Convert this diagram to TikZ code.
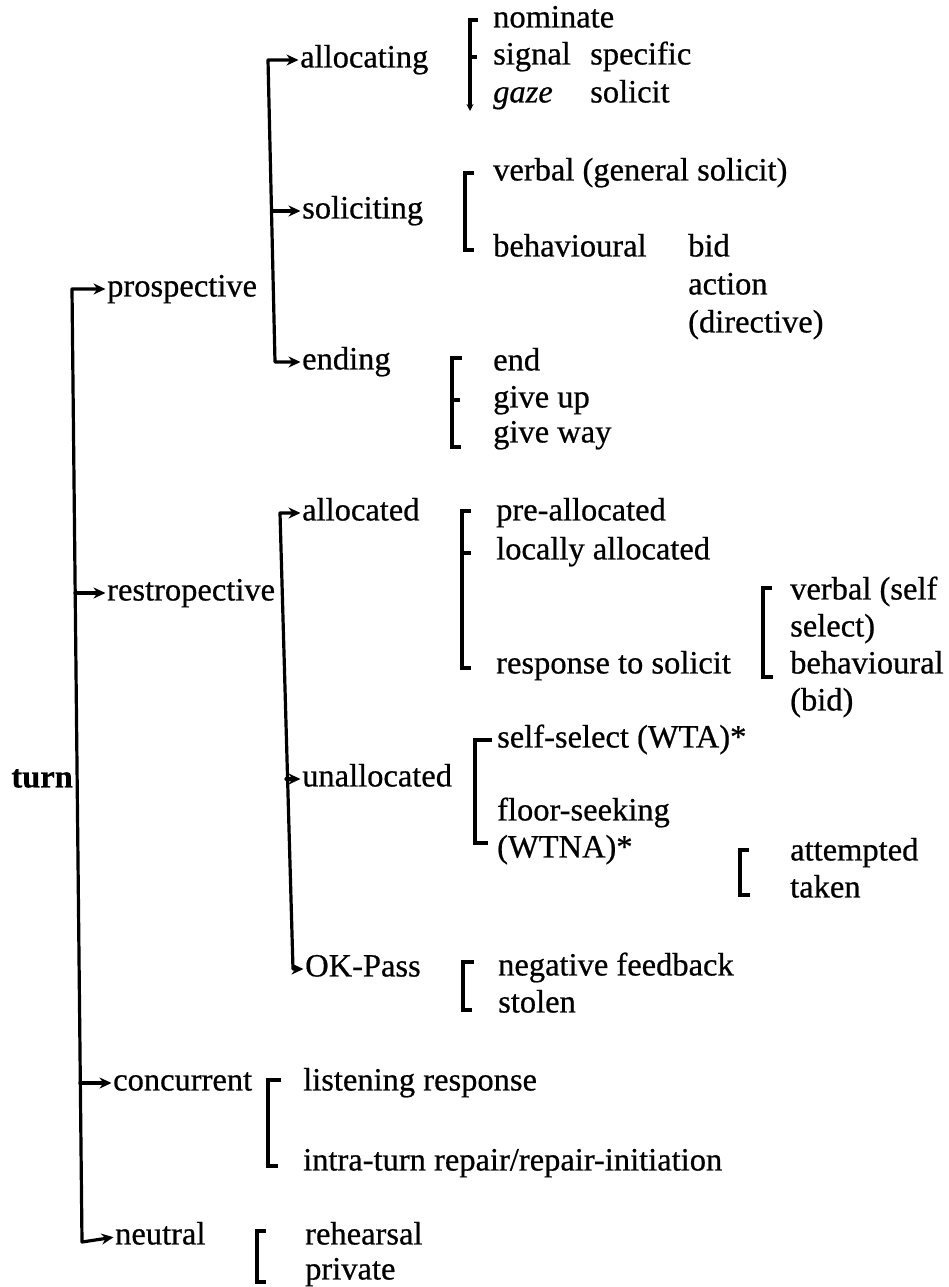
\documentclass[tikz,border=0pt]{standalone}
\usepackage{fontspec}
\setmainfont{Liberation Serif}[FakeBold=0.6]
\usetikzlibrary{arrows.meta}
\begin{document}
\fontsize{32.5}{37}\selectfont
\begin{tikzpicture}[x=1pt,y=-1pt,
  lab/.style={anchor=mid west, inner sep=0pt, font=\fontsize{32.5}{37}\selectfont},
  ln/.style={line width=3.2pt, line cap=round, line join=round},
  arr/.style={ln, -{Stealth[length=12pt,width=11pt]}, shorten >=1.5pt},
  arrtwo/.style={ln, {Stealth[length=12pt,width=11pt]}-{Stealth[length=12pt,width=11pt]}, shorten >=1.5pt, shorten <=1.5pt},
  brk/.style={line width=3.2pt, line cap=butt, line join=miter}]
\fill[white] (0,0) rectangle (949,1287);
\useasboundingbox (0,0) rectangle (949,1287);

% level 0 and 1
\node[lab, anchor=mid east, font={\fontsize{32.5}{37}\selectfont\bfseries}] (turn) at (73,780) {turn};
\node[lab] (pro) at (107,289) {prospective};
\node[lab] (res) at (107,593) {restropective};
\node[lab] (con) at (113,1083) {concurrent};
\node[lab] (neu) at (115,1237) {neutral};

\draw[arrtwo] (pro.mid west) -- (72,289) -- (82,1242) -- (neu.mid west);
\draw[arr] (75,593) -- (res.mid west);
\draw[arr] (80,1083) -- (con.mid west);

% prospective branch
\node[lab] (alc) at (300,60) {allocating};
\node[lab] (sol) at (302,211) {soliciting};
\node[lab] (endg) at (302,362) {ending};
\draw[arrtwo] (alc.mid west) -- (268,60) -- (275,362) -- (endg.mid west);
\draw[arr] (272,211) -- (sol.mid west);

% allocating group
\node[lab] (nom) at (493,20) {nominate};
\node[lab] (sig) at (493,57) {signal};
\node[lab] (spe) at (590,57) {specific};
\node[lab] (gaz) at (493,95) {\itshape gaze};
\node[lab] (sli) at (590,95) {solicit};
\draw[brk] (478,20) -- (470,20) -- (470,104);
\draw[brk] (470,57) -- (477,57);
\draw[ln, -{Stealth[length=7pt,width=7pt]}] (470,100) -- (470,111);

% soliciting group
\node[lab] (vgs) at (493,173) {verbal (general solicit)};
\node[lab] (beh) at (493,249) {behavioural};
\node[lab] (bid) at (688,249) {bid};
\node[lab] (act) at (688,287) {action};
\node[lab] (dir) at (688,325) {(directive)};
\draw[brk] (474,173) -- (465,173) -- (465,250) -- (474,250);

% ending group
\node[lab] (enx) at (493,363) {end};
\node[lab] (gup) at (493,400) {give up};
\node[lab] (gwy) at (493,435) {give way};
\draw[brk] (462,358) -- (452,358) -- (452,447) -- (461,447);
\draw[brk] (452,400) -- (460,400);

% restropective branch
\node[lab] (ald) at (302,513) {allocated};
\node[lab] (una) at (302,779) {unallocated};
\node[lab] (okp) at (305,969) {OK-Pass};
\draw[arrtwo] (ald.mid west) -- (280,513) -- (293,969) -- (okp.mid west);
\draw[arr] (286,779) -- (una.mid west);

% allocated group
\node[lab] (pre) at (496,513) {pre-allocated};
\node[lab] (loc) at (496,552) {locally allocated};
\node[lab] (rts) at (496,666) {response to solicit};
\draw[brk] (471,511) -- (462,511) -- (462,668) -- (471,668);
\draw[brk] (462,553) -- (471,553);

% response group
\node[lab] (vss) at (790,592) {verbal (self};
\node[lab] (sel) at (790,629) {select)};
\node[lab] (bhv) at (790,666) {behavioural};
\node[lab] (bdd) at (790,703) {(bid)};
\draw[brk] (772,588) -- (763,588) -- (763,677) -- (773,677);

% unallocated group
\node[lab] (ssw) at (497,740) {self-select (WTA)*};
\node[lab] (fls) at (497,813) {floor-seeking};
\node[lab] (wtn) at (497,850) {(WTNA)*};
\draw[brk] (492,740) -- (475,740) -- (475,843) -- (488,843);

% attempted group
\node[lab] (att) at (790,853) {attempted};
\node[lab] (tak) at (790,890) {taken};
\draw[brk] (749,850) -- (740,850) -- (740,895) -- (750,895);

% OK-Pass group
\node[lab] (neg) at (498,968) {negative feedback};
\node[lab] (sto) at (498,1005) {stolen};
\draw[brk] (474,962) -- (463,962) -- (463,1010) -- (472,1010);

% concurrent group
\node[lab] (lis) at (303,1083) {listening response};
\node[lab] (itr) at (303,1163) {intra-turn repair/repair-initiation};
\draw[brk] (281,1080) -- (268,1080) -- (268,1166) -- (278,1166);

% neutral group
\node[lab] (reh) at (305,1237) {rehearsal};
\node[lab] (pri) at (305,1272) {private};
\draw[brk] (266,1231) -- (257,1231) -- (257,1282) -- (266,1282);
\end{tikzpicture}
\end{document}
